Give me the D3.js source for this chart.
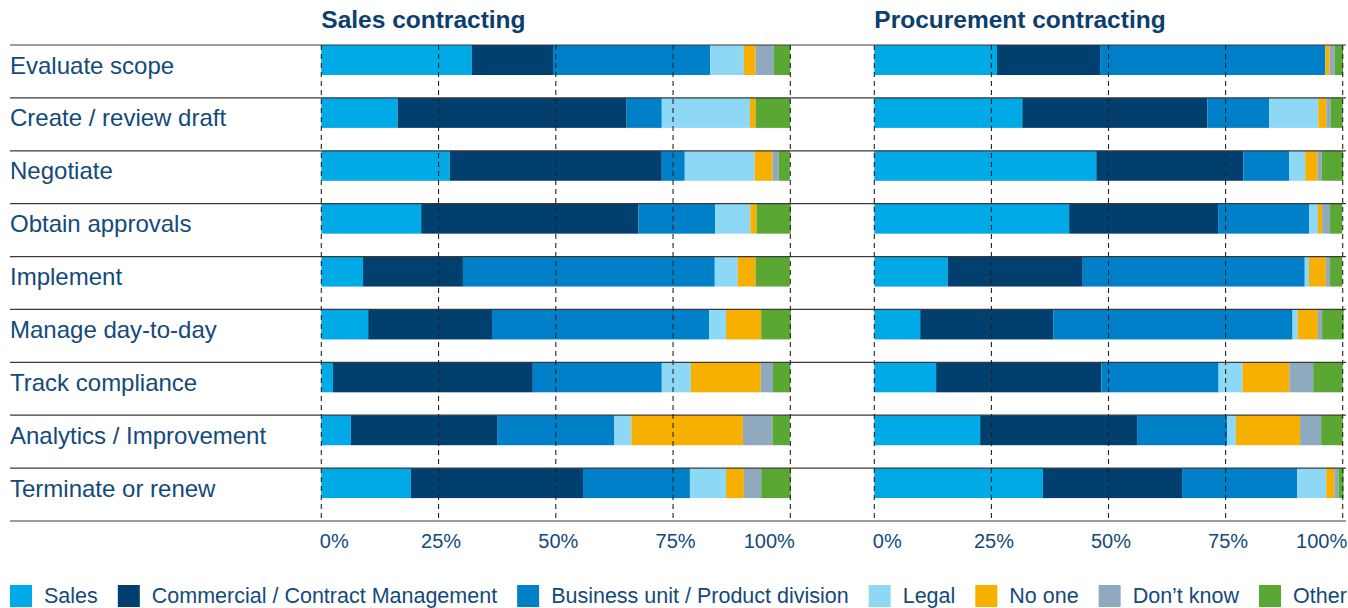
<!DOCTYPE html>
<html>
<head>
<meta charset="utf-8">
<script src="https://cdn.jsdelivr.net/npm/d3@7"></script>
<style>
  html, body { margin: 0; padding: 0; background: #fff; }
  svg { display: block; font-family: "Liberation Sans", Arial, Helvetica, sans-serif; }
</style>
</head>
<body>
<svg id="chart" width="1348" height="608"></svg>
<script>
// ---- data ----
const categories = ["Evaluate scope", "Create / review draft", "Negotiate", "Obtain approvals",
  "Implement", "Manage day-to-day", "Track compliance", "Analytics / Improvement", "Terminate or renew"];
const seriesNames = ["Sales", "Commercial / Contract Management", "Business unit / Product division",
  "Legal", "No one", "Don\u2019t know", "Other"];
const panelTitles = ["Sales contracting", "Procurement contracting"];
const tickValues = [0, 25, 50, 75, 100];
const tickLabels = ["0%", "25%", "50%", "75%", "100%"];

// Sales contracting (% per category, series order as seriesNames)
const salesSales      = [32.1, 16.3, 27.4, 21.3,  8.9, 10.0,  2.5,  6.3, 19.1];
const salesCommercial = [17.3, 48.8, 45.2, 46.3, 21.3, 26.4, 42.6, 31.3, 36.7];
const salesBusiness   = [33.5,  7.5,  4.9, 16.4, 53.7, 46.3, 27.5, 24.9, 22.8];
const salesLegal      = [ 7.2, 18.8, 14.9,  7.5,  4.9,  3.6,  6.2,  3.6,  7.7];
const salesNoOne      = [ 2.5,  1.2,  3.8,  1.3,  3.8,  7.5, 14.9, 23.8,  3.8];
const salesDontKnow   = [ 3.9,  0.0,  1.3,  0.0,  0.0,  0.0,  2.6,  6.3,  3.7];
const salesOther      = [ 3.5,  7.4,  2.4,  7.3,  7.3,  6.3,  3.7,  3.7,  6.3];

// Procurement contracting
const procSales      = [26.2, 31.6, 47.4, 41.6, 15.7,  9.8, 13.2, 22.6, 36.0];
const procCommercial = [22.0, 39.5, 31.4, 31.8, 28.8, 28.4, 35.3, 33.5, 29.7];
const procBusiness   = [48.1, 13.2,  9.8, 19.4, 47.4, 51.1, 25.0, 19.2, 24.6];
const procLegal      = [ 0.0, 10.5,  3.4,  1.9,  0.9,  1.1,  5.1,  1.9,  6.2];
const procNoOne      = [ 0.9,  1.7,  2.6,  0.9,  3.6,  4.3, 10.0, 13.7,  1.7];
const procDontKnow   = [ 1.1,  0.9,  0.9,  1.7,  0.9,  0.9,  5.1,  4.5,  0.9];
const procOther      = [ 1.8,  2.6,  4.6,  2.6,  2.6,  4.6,  6.3,  4.6,  1.1];

const colors = ["#00aae7", "#003f6e", "#0080c8", "#8dd8f5", "#f8b000", "#8fa9bf", "#5aa833"];

// ---- build tables ----
function buildRows(arrs) {
  return categories.map((c, i) => {
    const r = { category: c };
    seriesNames.forEach((s, j) => r[s] = arrs[j][i]);
    return r;
  });
}
const panels = [
  { title: panelTitles[0], rows: buildRows([salesSales, salesCommercial, salesBusiness, salesLegal, salesNoOne, salesDontKnow, salesOther]), range: [321.3, 790.3] },
  { title: panelTitles[1], rows: buildRows([procSales, procCommercial, procBusiness, procLegal, procNoOne, procDontKnow, procOther]), range: [874.3, 1342.7] }
];

const svg = d3.select("#chart");
const textColor = "#134a7b";
const titleColor = "#0c3e6e";

const y = d3.scaleBand().domain(categories).range([45, 521]).paddingInner(0).paddingOuter(0);
const barH = y.bandwidth() * 0.567;
const color = d3.scaleOrdinal().domain(seriesNames).range(colors);
const stack = d3.stack().keys(seriesNames);

const gBars = svg.append("g");
const gLines = svg.append("g");
const gDash = svg.append("g");
const gText = svg.append("g");

panels.forEach((p, pi) => {
  const x = d3.scaleLinear().domain([0, 100]).range(p.range);
  const layers = stack(p.rows);
  gBars.append("g").selectAll("g").data(layers).join("g")
    .attr("fill", d => color(d.key))
    .selectAll("rect").data(d => d).join("rect")
    .attr("x", d => x(d[0]))
    .attr("y", d => y(d.data.category))
    .attr("width", d => Math.max(0, x(d[1]) - x(d[0])))
    .attr("height", barH);

  // dashed gridlines
  gDash.append("g").selectAll("line").data(tickValues).join("line")
    .attr("x1", d => x(d)).attr("x2", d => x(d))
    .attr("y1", y.range()[0]).attr("y2", y.range()[1])
    .attr("stroke", "#222").attr("stroke-width", 1.1)
    .attr("stroke-dasharray", "5,4");

  // axis via d3.axisBottom
  const axis = d3.axisBottom(x).tickValues(tickValues)
    .tickFormat((d, i) => tickLabels[i]).tickSize(0).tickPadding(0);
  const ga = gText.append("g").attr("transform", `translate(0,${y.range()[1]})`).call(axis);
  ga.select(".domain").remove();
  ga.selectAll("text")
    .attr("y", 27)
    .attr("dy", 0)
    .attr("fill", textColor)
    .style("font-size", "20px")
    .style("font-family", "'Liberation Sans', Arial, Helvetica, sans-serif")
    .attr("text-anchor", (d, i) => i === 0 ? "start" : (i === tickValues.length - 1 ? "end" : "middle"))
    .attr("dx", (d, i) => i === 0 ? -2 : (i === tickValues.length - 1 ? 4 : 2));

  // panel title
  gText.append("text")
    .attr("x", x(0)).attr("y", 28)
    .attr("fill", titleColor)
    .style("font-size", "24.5px").style("font-weight", "bold")
    .text(p.title);
});

// row separator lines
const lineYs = categories.map(c => y(c)).concat([y.range()[1]]);
gLines.selectAll("line").data(lineYs).join("line")
  .attr("x1", 10).attr("x2", 1346)
  .attr("y1", d => d).attr("y2", d => d)
  .attr("stroke", "#3a3a3a").attr("stroke-width", 1.2);

// row labels
gText.append("g").selectAll("text").data(categories).join("text")
  .attr("x", 10)
  .attr("y", d => y(d) + 28.5)
  .attr("fill", textColor)
  .style("font-size", "24px")
  .text(d => d);

// legend
const gLeg = svg.append("g");
let lx = 10;
seriesNames.forEach((s, i) => {
  gLeg.append("rect").attr("x", lx).attr("y", 585).attr("width", 22).attr("height", 22).attr("fill", color(s));
  const t = gLeg.append("text").attr("x", lx + 34).attr("y", 603)
    .attr("fill", textColor).style("font-size", "21.5px").text(s);
  lx += 34 + t.node().getComputedTextLength() + 20;
});
</script>
</body>
</html>
